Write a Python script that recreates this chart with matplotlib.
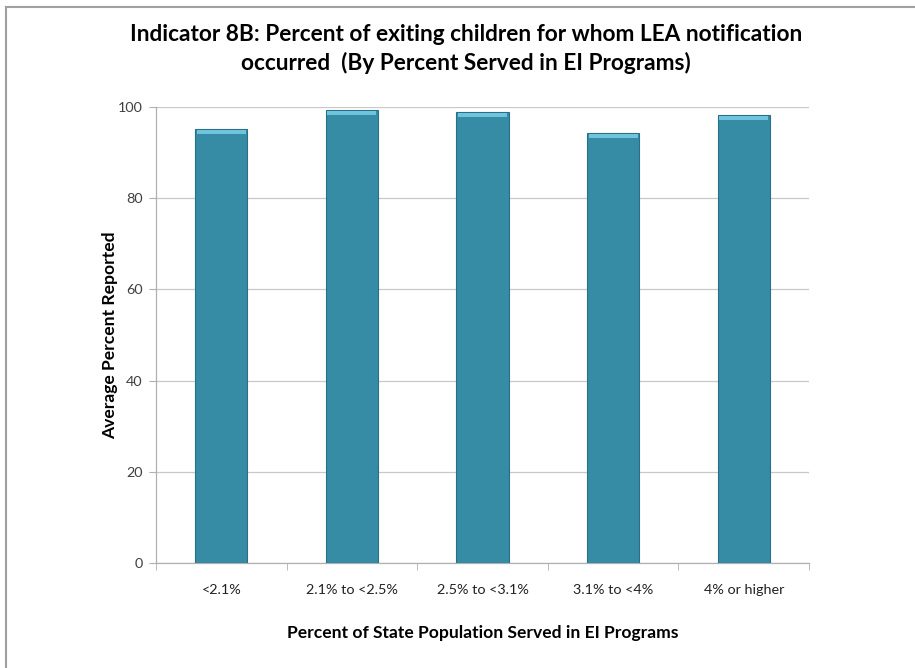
import numpy as np
import matplotlib
matplotlib.use("Agg")
import matplotlib.pyplot as plt
from matplotlib.lines import Line2D

plt.rcParams['font.family'] = ['Lato', 'DejaVu Sans']

# data
categories = ['<2.1%', '2.1% to <2.5%', '2.5% to <3.1%', '3.1% to <4%', '4% or higher']
avg_percent = [95.2, 99.3, 99.0, 94.3, 98.3]
yticks = [0, 20, 40, 60, 80, 100]

title = ('Indicator 8B: Percent of exiting children for whom LEA notification\n'
         'occurred  (By Percent Served in EI Programs)')
xname = 'Percent of State Population Served in EI Programs'
yname = 'Average Percent Reported'

bar_color = '#368BA5'
edge_color = '#2A6F85'
top_color = '#6FC3DC'

W, H = 915, 668
fig = plt.figure(figsize=(W / 100, H / 100), dpi=100)
ax = fig.add_axes([156 / W, 1 - 562.7 / H, (809 - 156) / W, (562.7 - 107.3) / H])

ind = np.arange(len(categories))
width = 0.4
ax.bar(ind, avg_percent, width, color=bar_color, edgecolor=edge_color, linewidth=0.8, zorder=3)
# light bevel on the top of each bar
cap = 0.9
ax.bar(ind, [cap] * len(ind), width * 0.94, bottom=np.array(avg_percent) - cap - 0.2,
       color=top_color, linewidth=0, zorder=4)

ax.set_xlim(-0.5, len(categories) - 0.5)
ax.set_ylim(0, 100)
ax.set_yticks(yticks)
ax.yaxis.grid(True, color='#C8C8C8', linewidth=0.9, zorder=0)
ax.set_axisbelow(True)

ax.set_xticks(ind)
ax.set_xticklabels(categories, fontsize=10.4, color='#222222')
ax.set_xticks(np.arange(-0.5, len(categories)), minor=True)
ax.tick_params(axis='x', which='major', length=0, pad=15)
ax.tick_params(axis='x', which='minor', length=5, color='#B0B0B0', direction='out')
ax.tick_params(axis='y', length=5, color='#B0B0B0', labelsize=10.4, labelcolor='#404040', pad=4.5)

for s in ['top', 'right']:
    ax.spines[s].set_visible(False)
for s in ['left', 'bottom']:
    ax.spines[s].set_color('#B0B0B0')
    ax.spines[s].set_linewidth(0.9)

ax.set_xlabel(xname, fontsize=12.6, fontweight='bold', labelpad=21)
ax.set_ylabel(yname, fontsize=12.6, fontweight='bold', labelpad=0)

fig.text(466 / W, 1 - 49 / H, title, ha='center', va='center', fontsize=16.3,
         fontweight='bold', linespacing=1.4)

# outer frame
fig.add_artist(Line2D([5.5 / W, 5.5 / W], [0, 1 - 6.5 / H], color='#A0A0A0', lw=1.5))
fig.add_artist(Line2D([5.5 / W, 1], [1 - 6.5 / H, 1 - 6.5 / H], color='#A0A0A0', lw=1.5))

fig.savefig('out.png', dpi=100)
